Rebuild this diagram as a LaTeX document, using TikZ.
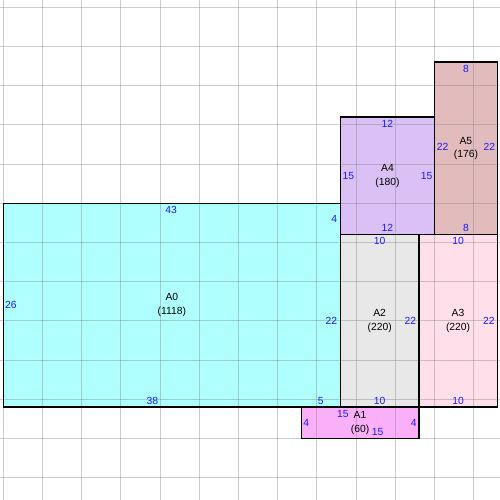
\documentclass[tikz,border=0pt]{standalone}
\usepackage{fontspec}
\setmainfont{Liberation Sans}
\definecolor{cA0}{HTML}{B0FFFF}
\definecolor{cA1}{HTML}{F9B0F9}
\definecolor{cA2}{HTML}{E8E8E8}
\definecolor{cA3}{HTML}{FFE0EA}
\definecolor{cA4}{HTML}{DAC0F4}
\definecolor{cA5}{HTML}{E2BCBC}
\definecolor{lblue}{HTML}{1A1AFF}
\begin{document}
\begin{tikzpicture}[x=0.2cm,y=-0.2cm,
  gridline/.style={draw=black!50,opacity=0.4,line width=0.75pt},
  box/.style={draw=black,line width=1pt},
  lbl/.style={text=lblue,inner sep=0pt,font=\fontsize{7.5}{9}\selectfont},
  area/.style={text=black,inner sep=0pt,align=center,font=\fontsize{7.5}{10}\selectfont}]
\useasboundingbox[fill=white] (-0.42,-25.93) rectangle (63.35,37.84);
% fills
\fill[cA0] (0,0) rectangle (43,26);
\fill[cA1] (38,26) rectangle (53,30);
\fill[cA2] (43,4) rectangle (53,26);
\fill[cA3] (53,4) rectangle (63,26);
\fill[cA4] (43,-11) rectangle (55,4);
\fill[cA5] (55,-18) rectangle (63,4);
% grid
\foreach \gx in {0,5,...,60} {\draw[gridline] (\gx,-25.93) -- (\gx,37.84);}
\foreach \gy in {-25,-20,...,35} {\draw[gridline] (-0.42,\gy) -- (63.35,\gy);}
% borders
\draw[box] (0,0) rectangle (43,26);
\draw[box] (38,26) rectangle (53,30);
\draw[box] (43,4) rectangle (53,26);
\draw[box] (53,4) rectangle (63,26);
\draw[box] (43,-11) rectangle (55,4);
\draw[box] (55,-18) rectangle (63,4);
% A0
\node[area] (a0) at (21.5,13) {A0\\(1118)};
\node[lbl] (a0t) at (21.4,0.85) {43};
\node[lbl,anchor=west] (a0l) at (0.2,13) {26};
\node[lbl] (a0b1) at (19,25.2) {38};
\node[lbl] (a0b2) at (40.5,25.2) {5};
\node[lbl,anchor=east] (a0r1) at (42.6,2) {4};
\node[lbl,anchor=east] (a0r2) at (42.6,15) {22};
% A1
\node[area] (a1) at (45.5,28) {A1\\(60)};
\node[lbl,anchor=west] (a1l) at (38.25,28) {4};
\node[lbl,anchor=east] (a1r) at (52.75,28) {4};
\node[lbl] (a1t) at (43.3,26.9) {15};
\node[lbl] (a1b) at (47.75,29.2) {15};
% A2
\node[area] (a2) at (48,15) {A2\\(220)};
\node[lbl] (a2t) at (48,4.85) {10};
\node[lbl] (a2b) at (48,25.2) {10};
\node[lbl,anchor=east] (a2r) at (52.7,15) {22};
% A3
\node[area] (a3) at (58,15) {A3\\(220)};
\node[lbl] (a3t) at (58,4.85) {10};
\node[lbl] (a3b) at (58,25.2) {10};
\node[lbl,anchor=east] (a3r) at (62.7,15) {22};
% A4
\node[area] (a4) at (49,-3.5) {A4\\(180)};
\node[lbl] (a4t) at (49,-10.15) {12};
\node[lbl] (a4b) at (49,3.15) {12};
\node[lbl,anchor=west] (a4l) at (43.25,-3.5) {15};
\node[lbl,anchor=east] (a4r) at (54.75,-3.5) {15};
% A5
\node[area] (a5) at (59,-7) {A5\\(176)};
\node[lbl] (a5t) at (59,-17.1) {8};
\node[lbl] (a5b) at (59,3.15) {8};
\node[lbl,anchor=west] (a5l) at (55.25,-7.2) {22};
\node[lbl,anchor=east] (a5r) at (62.75,-7.2) {22};
\end{tikzpicture}
\end{document}
